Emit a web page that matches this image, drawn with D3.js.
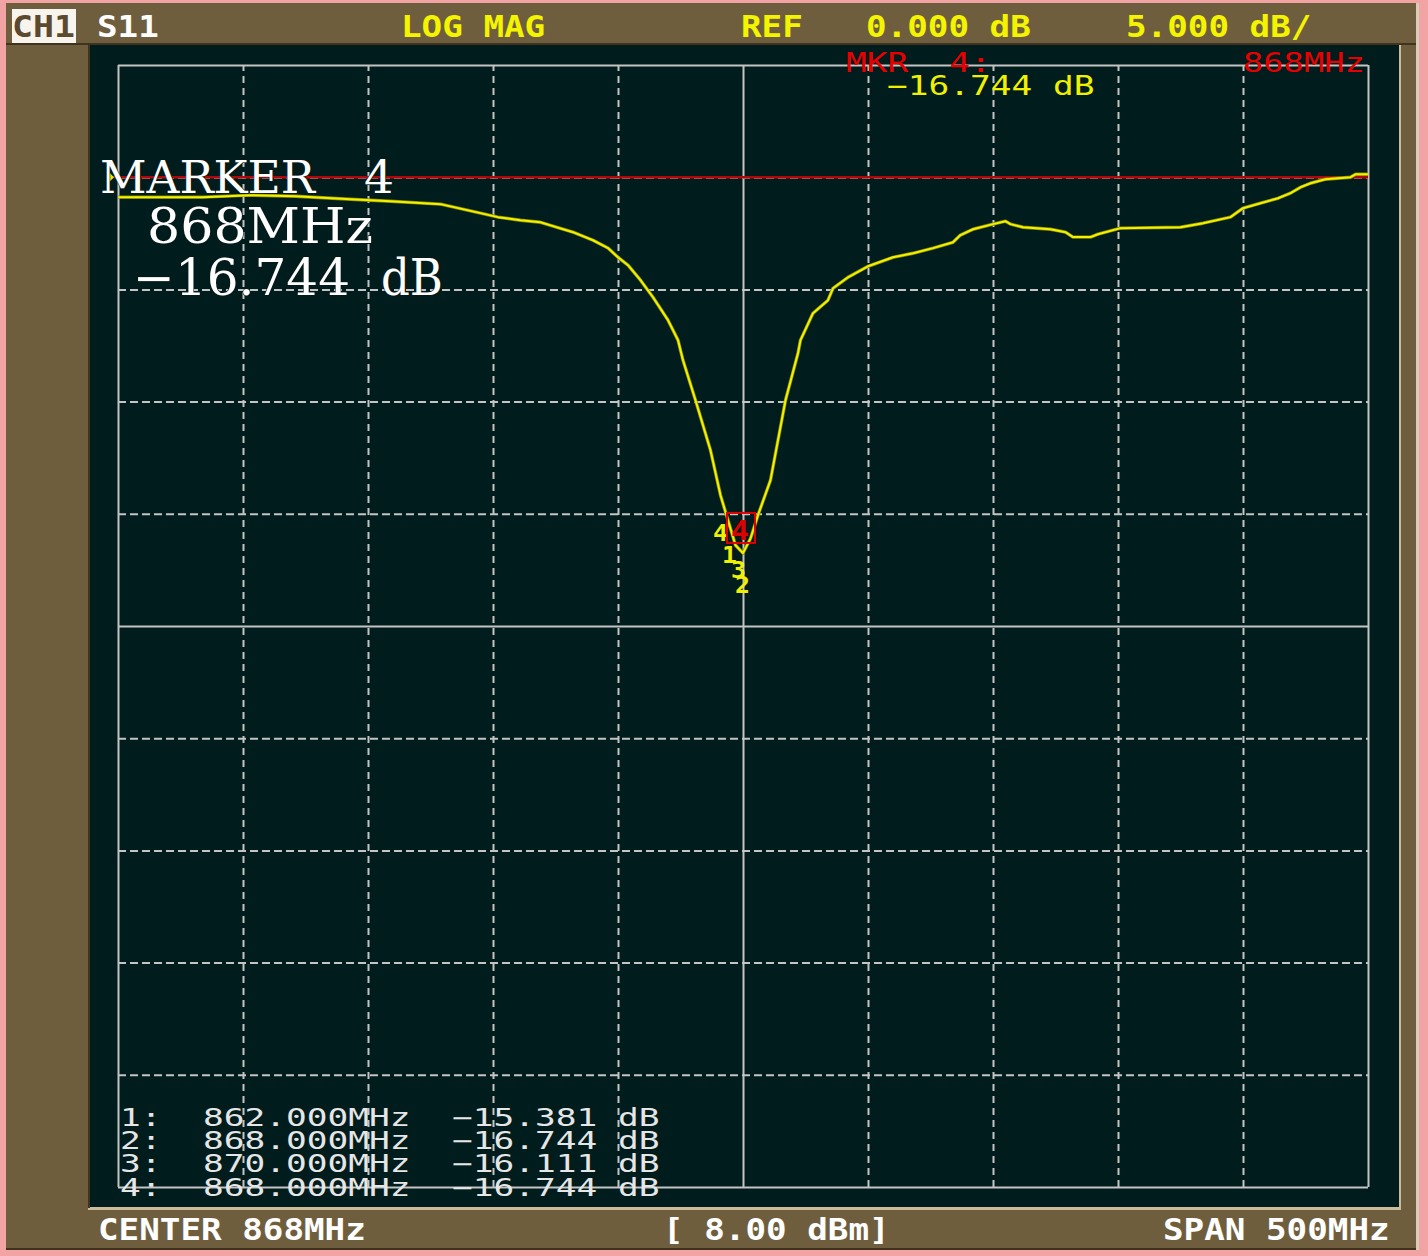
<!DOCTYPE html>
<html><head><meta charset="utf-8">
<script src="https://cdn.jsdelivr.net/npm/d3@7"></script>
<style>html,body{margin:0;padding:0;background:#f2a4a4;} svg{display:block}</style>
</head><body><svg id="c" width="1428" height="1256"></svg>
<script>
// ---------- data ----------
const freqMHz = [618,652,671,689,711,727,747,763,770,779,787,792,800,808,814,818,822,827,832,838,
  842,844,849,855,859,862,865,868,871,874,879,885,890,891,896,902,904,910,918,928,
  936,944,952,955,960,968,973,975,980,991,997,1000,1007,1010,1019,1043,1052,1063,1068,1075,
  1082,1087,1091,1095,1101,1111,1113,1118];
const s11dB = [-0.89,-0.89,-0.80,-0.85,-0.98,-1.07,-1.20,-1.60,-1.78,-1.92,-2.01,-2.18,-2.45,-2.81,-3.16,-3.57,-3.92,-4.59,-5.35,-6.37,
  -7.26,-8.16,-9.94,-12.17,-14.17,-15.29,-16.4,-16.75,-16.1,-15.06,-13.50,-9.94,-7.84,-7.26,-6.06,-5.48,-4.95,-4.46,-3.97,-3.57,
  -3.39,-3.16,-2.90,-2.58,-2.32,-2.09,-1.96,-2.09,-2.23,-2.32,-2.45,-2.67,-2.67,-2.54,-2.27,-2.23,-2.05,-1.78,-1.38,-1.16,
  -0.94,-0.71,-0.45,-0.27,-0.09,0.00,0.13,0.13];
const gridFreqMHz = [618,668,718,768,818,868,918,968,1018,1068,1118];
const gridDb = [5,0,-5,-10,-15,-20,-25,-30,-35,-40,-45];
const markerIds = [1,2,3,4];
const markerFreqMHz = [862,868,870,868];
const markerDb = [-15.381,-16.744,-16.111,-16.744];
const activeMarker = 4;
const refDb = 0;
const headerLabels = ["CH1","S11","LOG MAG","REF","0.000 dB","5.000 dB/"];
const footerLabels = ["CENTER 868MHz","[ 8.00 dBm]","SPAN 500MHz"];

// ---------- drawing ----------
const svg = d3.select("#c");
const X0=118, X1=1368, Y0=65, Y1=1187;
const x = d3.scaleLinear().domain([618,1118]).range([X0,X1]);
const y = d3.scaleLinear().domain([5,-45]).range([Y0,Y1]);
const fmt = d3.format(".3f");

// frame
svg.append("rect").attr("width",1428).attr("height",1256).attr("fill","#f2a4a4");
svg.append("rect").attr("x",6).attr("y",3).attr("width",1412).attr("height",1247).attr("fill","#3e321f");
svg.append("rect").attr("x",6).attr("y",3).attr("width",1410).attr("height",1245).attr("fill","#6f5e3e");
svg.append("rect").attr("x",1416).attr("y",3).attr("width",3).attr("height",1247).attr("fill","#d8cdb8");
svg.append("rect").attr("x",6).attr("y",43).attr("width",1410).attr("height",2).attr("fill","#40331f");
svg.append("rect").attr("x",88).attr("y",45).attr("width",1313).attr("height",1165).attr("fill","#cbbd9c");
svg.append("rect").attr("x",88).attr("y",45).attr("width",2).attr("height",1163).attr("fill","#40331f");
svg.append("rect").attr("x",90).attr("y",45).attr("width",1309).attr("height",1162).attr("fill","#001c1c");

// grid via axes
const gridCol = "#c4c4c4";
const gx = svg.append("g").attr("transform",`translate(0,${Y1})`)
  .call(d3.axisBottom(x).tickValues(gridFreqMHz).tickSize(-(Y1-Y0)).tickFormat(""));
gx.select(".domain").remove();
gx.selectAll(".tick line").attr("stroke",gridCol).attr("stroke-width",2)
  .attr("stroke-dasharray",(d)=> (d===618||d===868||d===1118)?null:"7,5");
const gy = svg.append("g").attr("transform",`translate(${X0},0)`)
  .call(d3.axisLeft(y).tickValues(gridDb).tickSize(-(X1-X0)).tickFormat(""));
gy.select(".domain").remove();
gy.selectAll(".tick line").attr("stroke",gridCol).attr("stroke-width",2)
  .attr("stroke-dasharray",(d)=> (d===5||d===-20||d===-45)?null:"8,4");

// reference line
svg.append("line").attr("x1",107).attr("x2",X1).attr("y1",y(refDb)).attr("y2",y(refDb))
  .attr("stroke","#b00808").attr("stroke-width",2.5);
svg.append("path").attr("d",`M107,${y(refDb)-7} L114,${y(refDb)} L107,${y(refDb)+7} Z`).attr("fill","#e8e800");

// trace
const pts = freqMHz.map((f,i)=>[f,s11dB[i]]);
svg.append("path").datum(pts)
  .attr("d", d3.line().x(d=>x(d[0])).y(d=>y(d[1])))
  .attr("fill","none").attr("stroke","#8a8a00").attr("stroke-width",3.4).attr("stroke-linejoin","round");
svg.append("path").datum(pts)
  .attr("d", d3.line().x(d=>x(d[0])).y(d=>y(d[1])))
  .attr("fill","none").attr("stroke","#f2f200").attr("stroke-width",2).attr("stroke-linejoin","round");

// text helper
function txt(g, x0, yb, s, adv, size, fill, opts={}){
  const t = g.append("text").attr("x",x0).attr("y",yb).text(s)
    .attr("font-family", opts.family || "DejaVu Sans Mono")
    .attr("font-size", size).attr("fill", fill)
    .attr("font-weight", opts.weight || "normal")
    .attr("textLength", opts.len || s.length*adv)
    .attr("lengthAdjust","spacingAndGlyphs")
    .style("white-space","pre");
  if(opts.stroke){ t.attr("stroke",opts.stroke).attr("stroke-width",opts.sw||1).attr("paint-order","stroke"); }
  return t;
}

// markers near the dip
const mi = markerIds.indexOf(activeMarker);
const mx = x(markerFreqMHz[mi]), my = y(markerDb[mi]);
const mk = svg.append("g");
const yOff = {1:563, 2:593, 3:578, 4:541};
markerIds.forEach((id,i)=>{
  const lx = x(markerFreqMHz[i]);
  const dx = {1:-6, 2:-8, 3:-17, 4:-30}[id];
  txt(mk, lx+dx, yOff[id], String(id), 15, 23, "#f0f000", {weight:"bold"});
});
mk.append("rect").attr("x",mx-16).attr("y",my-40).attr("width",28).attr("height",30)
  .attr("fill","none").attr("stroke","#e00000").attr("stroke-width",2);
txt(mk, mx-12, my-13, String(activeMarker), 18, 26, "#e00000", {weight:"bold"});

// header
const hb = 37;
svg.append("rect").attr("x",12).attr("y",9).attr("width",64).attr("height",34).attr("fill","#f6f4ec");
txt(svg, 12, hb, headerLabels[0], 21, 30, "#5c4a2e", {weight:"bold"});
txt(svg, 97, hb, headerLabels[1], 20.6, 30, "#ffffff", {weight:"bold"});
txt(svg, 401, hb, headerLabels[2], 20.6, 30, "#f4f400", {weight:"bold"});
txt(svg, 741, hb, headerLabels[3], 20.6, 30, "#f4f400", {weight:"bold"});
txt(svg, 866, hb, headerLabels[4], 20.6, 30, "#f4f400", {weight:"bold"});
txt(svg, 1126, hb, headerLabels[5], 20.6, 30, "#f4f400", {weight:"bold"});

// footer
const fb = 1240;
txt(svg, 98, fb, footerLabels[0], 20.6, 31, "#ffffff", {weight:"bold"});
txt(svg, 663, fb, footerLabels[1], 20.6, 31, "#ffffff", {weight:"bold"});
txt(svg, 1163, fb, footerLabels[2], 20.6, 31, "#ffffff", {weight:"bold"});

// active marker readout (top)
txt(svg, 846, 72, `MKR  ${activeMarker}:`, 20.7, 26, "#e80000");
txt(svg, 1243, 72, `${markerFreqMHz[mi]}MHz`, 20.3, 26, "#e80000");
txt(svg, 887, 95, `${fmt(markerDb[mi])} dB`, 20.75, 26, "#f0f000");

// big marker annotation
const big = svg.append("g");
const bo = {family:"DejaVu Serif", stroke:"#0a1a1a", sw:1.2};
txt(big, 100, 193, "MARKER", 36, 45, "#ffffff", {...bo, len:215});
txt(big, 364, 193, String(activeMarker), 30, 45, "#ffffff", {...bo, len:30});
txt(big, 147, 243, `${markerFreqMHz[mi]}MHz`, 37, 48, "#ffffff", {...bo, len:226});
txt(big, 133, 295, fmt(markerDb[mi]), 31, 50, "#ffffff", {...bo, len:217});
txt(big, 381, 295, "dB", 31, 50, "#ffffff", {...bo, len:62});

// marker table
const tb = [1126,1149,1172,1196];
markerIds.forEach((id,i)=>{
  const s = `${id}:  ${fmt(markerFreqMHz[i])}MHz  ${fmt(markerDb[i])} dB`;
  txt(svg, 120, tb[i], s, 20.75, 24, "#e6e6e6");
});
</script></body></html>
